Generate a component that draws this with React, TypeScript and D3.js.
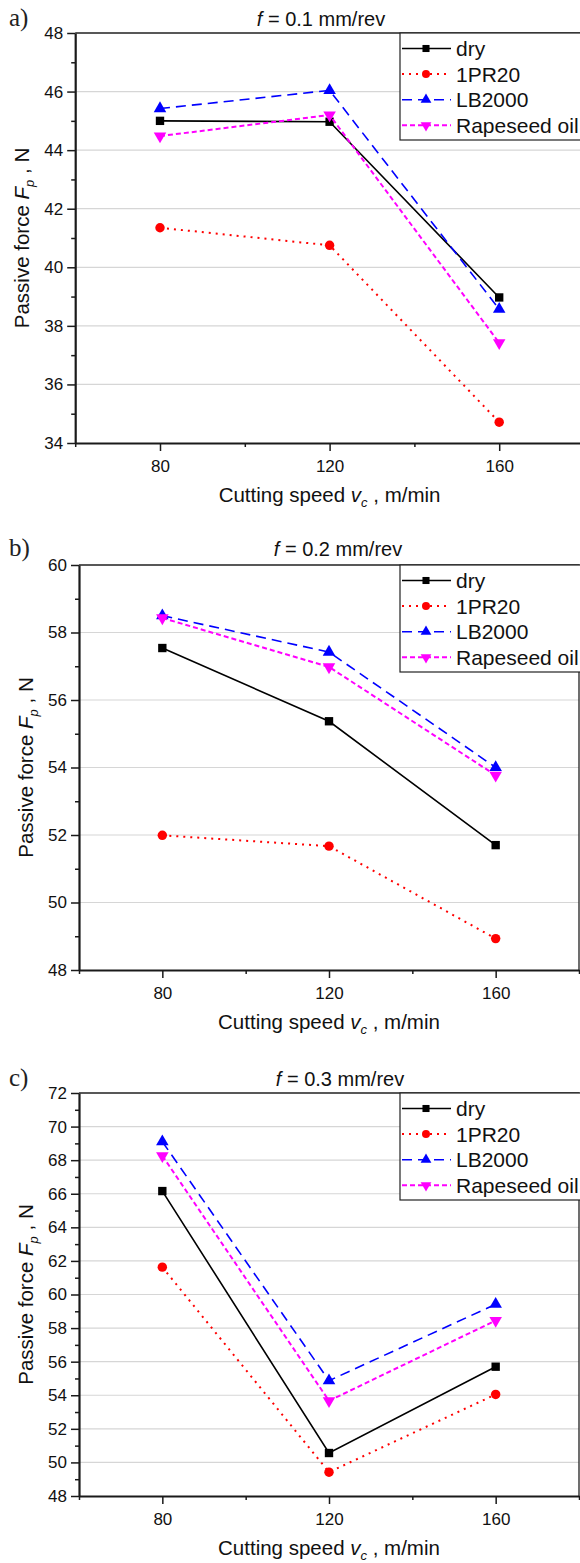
import React, { useEffect, useRef } from "react";
import * as d3 from "d3";

// cutting speed, m/min
const speeds = [80, 120, 160];
const seriesNames = ["dry", "1PR20", "LB2000", "Rapeseed oil"];
const feeds = ["0.1", "0.2", "0.3"];
const panelLetters = ["a)", "b)", "c)"];
const xMajorTicks = [80, 120, 160];
const xMinorTicks = [60, 100, 140, 180];

// passive force Fp, N  -- a) f = 0.1 mm/rev
const dryA = [45.0, 44.97, 38.97];
const pr20A = [41.35, 40.75, 34.71];
const lbA = [45.42, 46.04, 38.57];
const rapeA = [44.48, 45.2, 37.42];

// b) f = 0.2 mm/rev
const dryB = [57.54, 55.37, 51.7];
const pr20B = [51.99, 51.67, 48.93];
const lbB = [58.5, 57.42, 54.0];
const rapeB = [58.43, 56.98, 53.77];

// c) f = 0.3 mm/rev
const dryC = [66.16, 50.56, 55.7];
const pr20C = [61.63, 49.42, 54.05];
const lbC = [69.1, 54.87, 59.42];
const rapeC = [68.26, 53.67, 58.45];

const yMin = [34, 48, 48];
const yMax = [48, 60, 72];

const panelValues = [
  [dryA, pr20A, lbA, rapeA],
  [dryB, pr20B, lbB, rapeB],
  [dryC, pr20C, lbC, rapeC],
];

// layout of each panel in the page
const frames = [
  { left: 75.2, right: 584, top: 33, bottom: 443, titleX: 321, titleY: 26, letterY: 26 },
  { left: 79, right: 579, top: 565, bottom: 970, titleX: 338, titleY: 556, letterY: 556 },
  { left: 79, right: 579, top: 1093, bottom: 1496, titleX: 340, titleY: 1086, letterY: 1086 },
];

const lineStyles = [
  { color: "#000000", dash: null, width: 1.6, marker: "square", mSize: 70 },
  { color: "#ff0000", dash: "2,5", width: 2, marker: "circle", mSize: 70 },
  { color: "#0000ff", dash: "10,6", width: 1.6, marker: "up", mSize: 68 },
  { color: "#ff00ff", dash: "5,3", width: 2, marker: "down", mSize: 68 },
];

const FONT = "'Liberation Sans', Arial, sans-serif";

const symbolPath = (kind, size) => {
  const type =
    kind === "square" ? d3.symbolSquare : kind === "circle" ? d3.symbolCircle : d3.symbolTriangle;
  return d3.symbol().type(type).size(size)();
};

const App = () => {
  const ref = useRef(null);

  useEffect(() => {
    const svg = d3.select(ref.current);
    svg.selectAll("*").remove();

    frames.forEach((fr, p) => {
      const g = svg.append("g");
      const x = d3.scaleLinear().domain([60, 180]).range([fr.left, fr.right]);
      const y = d3.scaleLinear().domain([yMin[p], yMax[p]]).range([fr.bottom, fr.top]);

      const yMajor = d3.range(yMin[p], yMax[p] + 0.001, 2);
      const yMinor = d3.range(yMin[p] + 1, yMax[p], 2);

      // grid
      g.selectAll(".grid")
        .data(yMajor.filter((v) => v > yMin[p] && v < yMax[p]))
        .enter()
        .append("line")
        .attr("x1", fr.left)
        .attr("x2", fr.right)
        .attr("y1", (d) => y(d))
        .attr("y2", (d) => y(d))
        .attr("stroke", "#d6d6d6")
        .attr("stroke-width", 1.2);

      // top / right frame
      g.append("path")
        .attr("d", `M${fr.left},${fr.top}H${fr.right}V${fr.bottom}`)
        .attr("fill", "none")
        .attr("stroke", "#222")
        .attr("stroke-width", 1.3);

      // y axis
      const yAxis = g
        .append("g")
        .attr("transform", `translate(${fr.left},0)`)
        .call(d3.axisLeft(y).tickValues(yMajor).tickSize(8).tickSizeOuter(0).tickPadding(4).tickFormat(d3.format("d")));
      const yMinorAxis = g
        .append("g")
        .attr("transform", `translate(${fr.left},0)`)
        .call(d3.axisLeft(y).tickValues(yMinor).tickSize(4).tickSizeOuter(0).tickFormat(() => ""));
      yMinorAxis.select(".domain").remove();

      // x axis
      const xAxis = g
        .append("g")
        .attr("transform", `translate(0,${fr.bottom})`)
        .call(d3.axisBottom(x).tickValues(xMajorTicks).tickSize(8).tickSizeOuter(0).tickPadding(9));
      const xMinorAxis = g
        .append("g")
        .attr("transform", `translate(0,${fr.bottom})`)
        .call(d3.axisBottom(x).tickValues(xMinorTicks).tickSize(4).tickSizeOuter(0).tickFormat(() => ""));
      xMinorAxis.select(".domain").remove();

      [yAxis, xAxis, yMinorAxis, xMinorAxis].forEach((a) => {
        a.attr("font-family", FONT).attr("font-size", 17);
        a.selectAll("line").attr("stroke", "#1a1a1a").attr("stroke-width", 1.5);
        a.selectAll(".domain").attr("stroke", "#1a1a1a").attr("stroke-width", 2.2);
        a.selectAll("text").attr("fill", "#111");
      });

      // series
      panelValues[p].forEach((vals, s) => {
        const st = lineStyles[s];
        const pts = speeds.map((v, i) => [v, vals[i]]);
        const line = d3
          .line()
          .x((d) => x(d[0]))
          .y((d) => y(d[1]));
        g.append("path")
          .attr("d", line(pts))
          .attr("fill", "none")
          .attr("stroke", st.color)
          .attr("stroke-width", st.width)
          .attr("stroke-dasharray", st.dash);
        g.selectAll(`.m${s}`)
          .data(pts)
          .enter()
          .append("path")
          .attr("d", symbolPath(st.marker, st.mSize))
          .attr(
            "transform",
            (d) => `translate(${x(d[0])},${y(d[1])})${st.marker === "down" ? " rotate(180)" : ""}`
          )
          .attr("fill", st.color);
      });

      // legend
      const lg = g.append("g").attr("transform", `translate(400,${fr.top})`);
      lg.append("rect")
        .attr("x", 0)
        .attr("y", 0)
        .attr("width", 190)
        .attr("height", 107)
        .attr("fill", "#fff")
        .attr("stroke", "#222")
        .attr("stroke-width", 1.2);
      seriesNames.forEach((name, s) => {
        const st = lineStyles[s];
        const cy = 15.5 + s * 25.6;
        lg.append("line")
          .attr("x1", 2)
          .attr("x2", 51)
          .attr("y1", cy)
          .attr("y2", cy)
          .attr("stroke", st.color)
          .attr("stroke-width", st.width)
          .attr("stroke-dasharray", st.dash);
        lg.append("path")
          .attr("d", symbolPath(st.marker, 50))
          .attr("transform", `translate(26,${cy})${st.marker === "down" ? " rotate(180)" : ""}`)
          .attr("fill", st.color);
        lg.append("text")
          .attr("x", 56)
          .attr("y", cy + 7.5)
          .attr("font-family", FONT)
          .attr("font-size", 21)
          .attr("fill", "#111")
          .text(name);
      });

      // title
      const t = g
        .append("text")
        .attr("x", fr.titleX)
        .attr("y", fr.titleY)
        .attr("text-anchor", "middle")
        .attr("font-family", FONT)
        .attr("font-size", 20)
        .attr("fill", "#111");
      t.append("tspan").attr("font-style", "italic").text("f");
      t.append("tspan").text(` = ${feeds[p]} mm/rev`);

      // panel letter
      g.append("text")
        .attr("x", 9)
        .attr("y", fr.letterY)
        .attr("font-family", "'Liberation Serif', 'Times New Roman', serif")
        .attr("font-size", 25)
        .attr("fill", "#222")
        .text(panelLetters[p]);

      // x label
      const xl = g
        .append("text")
        .attr("x", (fr.left + fr.right) / 2)
        .attr("y", fr.bottom + 59)
        .attr("text-anchor", "middle")
        .attr("font-family", FONT)
        .attr("font-size", 20.5)
        .attr("fill", "#111");
      xl.append("tspan").text("Cutting speed ");
      xl.append("tspan").attr("font-style", "italic").text("v");
      xl.append("tspan").attr("font-style", "italic").attr("font-size", 13).attr("dy", 5).text("c");
      xl.append("tspan").attr("dy", -5).text(" , m/min");

      // y label
      const yl = g
        .append("text")
        .attr("transform", `translate(${fr.left - 46},${(fr.top + fr.bottom) / 2}) rotate(-90)`)
        .attr("text-anchor", "middle")
        .attr("font-family", FONT)
        .attr("font-size", 20.5)
        .attr("fill", "#111");
      yl.append("tspan").text("Passive force ");
      yl.append("tspan").attr("font-style", "italic").text("F");
      yl.append("tspan").attr("font-style", "italic").attr("font-size", 13).attr("dy", 5).text("p");
      yl.append("tspan").attr("dy", -5).text(" , N");
    });
  }, []);

  return (
    <svg
      ref={ref}
      width={580}
      height={1563}
      style={{ position: "absolute", left: 0, top: 0, background: "#fff" }}
    />
  );
};

export default App;
